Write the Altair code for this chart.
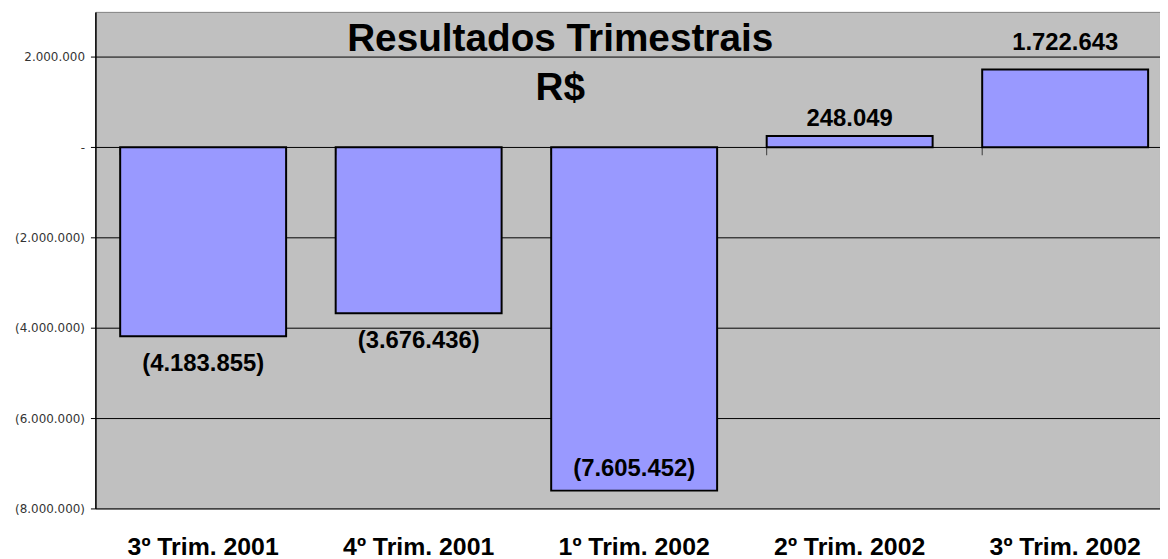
import altair as alt
import pandas as pd

quarters = ["3º Trim. 2001", "4º Trim. 2001", "1º Trim. 2002", "2º Trim. 2002", "3º Trim. 2002"]
results = [-4183855, -3676436, -7605452, 248049, 1722643]
y_ticks = [-8000000, -6000000, -4000000, -2000000, 0, 2000000]

df = pd.DataFrame({"q": quarters, "v": results})

FONT = "Liberation Sans"
NB = "\u00a0"

x_enc = alt.X(
    "q:N",
    sort=quarters,
    scale=alt.Scale(range=[0, 1085], paddingInner=0.23, paddingOuter=0.115),
    axis=alt.Axis(
        title=None, labelAngle=0, domain=False, ticks=False, labelPadding=26,
        labelFont=FONT, labelFontSize=25, labelFontWeight="bold", labelColor="black",
    ),
)

y_enc = alt.Y(
    "v:Q",
    scale=alt.Scale(domain=[-8000000, 3000000], nice=False, zero=False),
    axis=alt.Axis(
        title=None, values=y_ticks, grid=True, gridColor="black", gridOpacity=1, gridWidth=1,
        domain=True, domainColor="black", domainWidth=1.5,
        ticks=True, tickSize=5, tickColor="black", tickWidth=1,
        labelFont="DejaVu Sans", labelFontSize=12, labelColor="#333", labelPadding=6,
        labelExpr=(
            "datum.value == 0 ? '-" + NB * 5 + "' : "
            "(datum.value < 0 ? '(' + replace(format(-datum.value, ',.0f'), regexp(',', 'g'), '.') + ')' "
            ": replace(format(datum.value, ',.0f'), regexp(',', 'g'), '.') + '" + NB * 2 + "')"
        ),
    ),
)

base = alt.Chart(df)

bars = base.mark_bar(color="#9999FF", stroke="black", strokeWidth=2).encode(
    x=x_enc, y=y_enc
)

lbl_expr = (
    "datum.v < 0 ? '(' + replace(format(-datum.v, ',.0f'), regexp(',', 'g'), '.') + ')' "
    ": replace(format(datum.v, ',.0f'), regexp(',', 'g'), '.')"
)


def label_layer(cond, dy):
    return base.transform_filter(cond).transform_calculate(lbl=lbl_expr).mark_text(
        font=FONT, fontSize=24, fontWeight="bold", color="black",
        baseline="middle", align="center", dy=dy,
    ).encode(
        x=alt.X("q:N", sort=quarters),
        y=alt.Y("v:Q"),
        text="lbl:N",
    )


lab_neg = label_layer("datum.v < 0 && datum.v > -7000000", 28)
lab_neg_in = label_layer("datum.v <= -7000000", -22)
lab_pos_small = label_layer("datum.v >= 0 && datum.v < 1000000", -17)
lab_pos = label_layer("datum.v >= 1000000", -27)

ticks = base.mark_tick(orient="vertical", size=8, thickness=1, color="black", yOffset=4).encode(
    x=alt.X("q:N", sort=quarters, bandPosition=0),
    y=alt.datum(0),
)

chart = alt.layer(bars, ticks, lab_neg, lab_neg_in, lab_pos_small, lab_pos).properties(
    width=1072,
    height=500,
    autosize=alt.AutoSizeParams(type="none"),
    padding={"left": 88, "top": 2, "right": 0, "bottom": 49},
    background="white",
    title=alt.TitleParams(
        text=["Resultados Trimestrais", "R$"],
        font=FONT, fontSize=39, fontWeight="bold", color="black",
        anchor="middle", baseline="top", lineHeight=50, offset=0, dx=-68, dy=97,
    ),
).configure_view(
    fill="#C0C0C0", stroke="#808080", strokeWidth=1
)

chart.save("out.html", embed_options={"renderer": "svg", "actions": False})
